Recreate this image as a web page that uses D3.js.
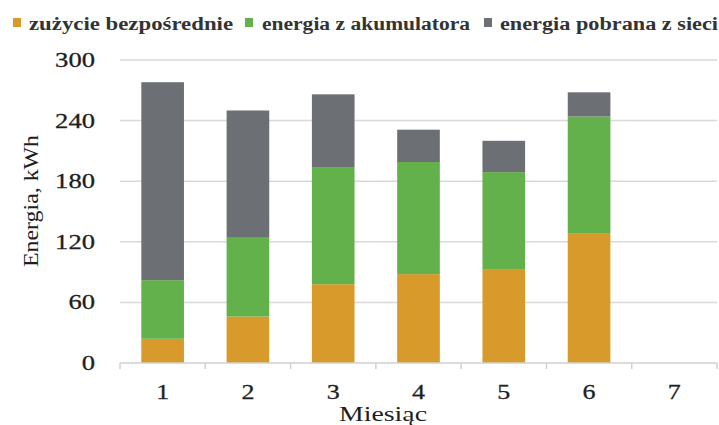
<!DOCTYPE html>
<html>
<head>
<meta charset="utf-8">
<script src="https://cdn.jsdelivr.net/npm/d3@7"></script>
<style>
  html, body { margin: 0; padding: 0; background: #fff; }
  svg text { font-family: 'Liberation Serif', serif; }
</style>
</head>
<body>
<svg id="chart" width="719" height="425"></svg>
<script>
// Monthly energy balance (kWh), stacked per month
const months = ["1", "2", "3", "4", "5", "6", "7"];
const direct = [24, 46, 78, 88, 93, 128, null];
const battery = [58, 78, 116, 111, 96, 116, null];
const grid = [196, 126, 72, 32, 31, 24, null];
const seriesNames = ["zużycie bezpośrednie", "energia z akumulatora", "energia pobrana z sieci"];
const yTicks = [0, 60, 120, 180, 240, 300];

const colors = ["#D89A2A", "#63B14A", "#6C6F73"];
const FONT = "'Liberation Serif', serif";

const svg = d3.select("#chart");
const margin = { left: 120, right: 2, top: 60, bottom: 62 };
const W = 719, H = 425;

const x = d3.scaleBand().domain(months).range([margin.left, W - margin.right]).paddingInner(0.5).paddingOuter(0.25);
const y = d3.scaleLinear().domain([0, 300]).range([H - margin.bottom, margin.top]);

// Gridlines
svg.append("g")
  .selectAll("line")
  .data(yTicks.filter(d => d > 0))
  .join("line")
  .attr("x1", margin.left).attr("x2", W - margin.right)
  .attr("y1", d => y(d)).attr("y2", d => y(d))
  .attr("stroke", "#d9d9d9").attr("stroke-width", 1.5);

// Stacked bars
const rows = months.map((m, i) => ({ month: m, a: direct[i] || 0, b: battery[i] || 0, c: grid[i] || 0 }));
const stack = d3.stack().keys(["a", "b", "c"])(rows);

svg.append("g")
  .selectAll("g")
  .data(stack)
  .join("g")
  .attr("fill", (d, i) => colors[i])
  .selectAll("rect")
  .data(d => d.filter(s => s[1] > s[0]))
  .join("rect")
  .attr("x", d => x(d.data.month))
  .attr("width", x.bandwidth())
  .attr("y", d => y(d[1]))
  .attr("height", d => y(d[0]) - y(d[1]));

// X axis line and category separators
const bandW = (W - margin.right - margin.left) / months.length;
svg.append("line")
  .attr("x1", margin.left).attr("x2", W - margin.right)
  .attr("y1", y(0)).attr("y2", y(0))
  .attr("stroke", "#d0d0d0").attr("stroke-width", 1.5);
svg.append("g")
  .selectAll("line")
  .data(d3.range(months.length + 1))
  .join("line")
  .attr("x1", i => margin.left + i * bandW)
  .attr("x2", i => margin.left + i * bandW)
  .attr("y1", y(0)).attr("y2", y(0) + 6)
  .attr("stroke", "#d0d0d0").attr("stroke-width", 1.5);

// X tick labels
svg.append("g")
  .selectAll("text")
  .data(months)
  .join("text")
  .attr("x", d => x(d) + x.bandwidth() / 2)
  .attr("y", 399)
  .attr("text-anchor", "middle")
  .attr("font-family", FONT)
  .attr("font-size", 22)
  .attr("fill", "#1e1e1e")
  .attr("stroke", "#1e1e1e").attr("stroke-width", 0.3)
  .attr("textLength", 13)
  .attr("lengthAdjust", "spacingAndGlyphs")
  .text(d => d);

// Y tick labels
svg.append("g")
  .selectAll("text")
  .data(yTicks)
  .join("text")
  .attr("x", 95)
  .attr("y", d => y(d) + 7)
  .attr("text-anchor", "end")
  .attr("font-family", FONT)
  .attr("font-size", 22)
  .attr("fill", "#1e1e1e")
  .attr("stroke", "#1e1e1e").attr("stroke-width", 0.3)
  .attr("textLength", d => String(d).length * 13.3)
  .attr("lengthAdjust", "spacingAndGlyphs")
  .text(d => d);

// Axis titles
svg.append("text")
  .attr("x", 383).attr("y", 421)
  .attr("text-anchor", "middle")
  .attr("font-family", FONT)
  .attr("font-size", 22)
  .attr("fill", "#1e1e1e")
  .attr("textLength", 88)
  .attr("lengthAdjust", "spacingAndGlyphs")
  .text("Miesiąc");

svg.append("text")
  .attr("transform", "translate(38,201) rotate(-90)")
  .attr("text-anchor", "middle")
  .attr("font-family", FONT)
  .attr("font-size", 20)
  .attr("fill", "#1e1e1e")
  .attr("textLength", 132)
  .attr("lengthAdjust", "spacingAndGlyphs")
  .text("Energia, kWh");

// Legend
const legendItems = [
  { sx: 13, tx: 29, w: 204 },
  { sx: 245, tx: 262, w: 208 },
  { sx: 484, tx: 500, w: 218 }
];
const lg = svg.append("g");
legendItems.forEach((it, i) => {
  lg.append("rect")
    .attr("x", it.sx).attr("y", 18).attr("width", 8).attr("height", 9)
    .attr("fill", colors[i]);
  lg.append("text")
    .attr("x", it.tx).attr("y", 30)
    .attr("font-family", FONT)
    .attr("font-size", 18)
    .attr("font-weight", "bold")
    .attr("fill", "#333")
    .attr("textLength", it.w)
    .attr("lengthAdjust", "spacingAndGlyphs")
    .text(seriesNames[i]);
});
</script>
</body>
</html>
